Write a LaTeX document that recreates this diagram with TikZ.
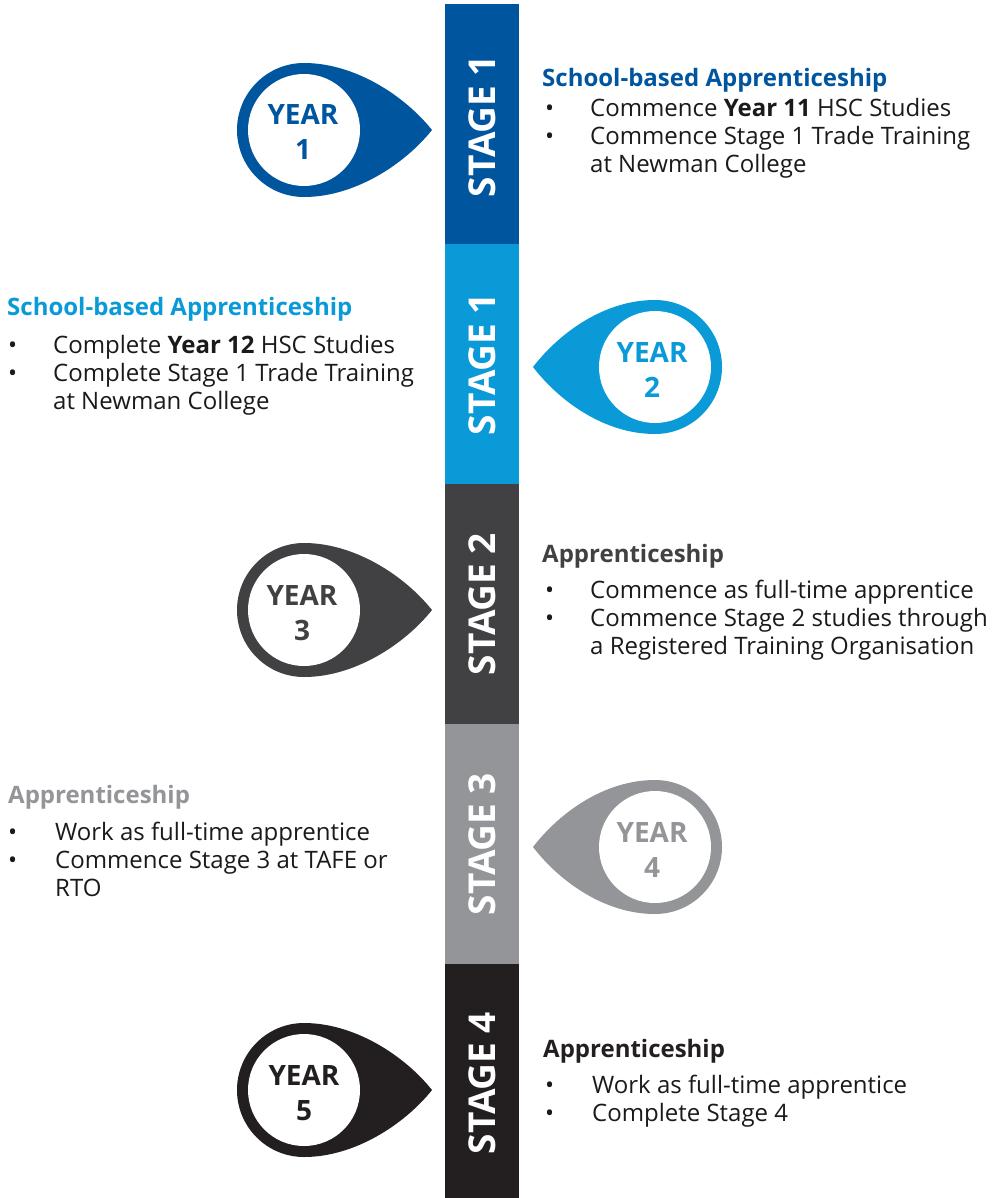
\documentclass[tikz,border=0pt]{standalone}
\usepackage{fontspec}
\setmainfont{Open Sans}
\definecolor{cA}{HTML}{00559F}
\definecolor{cB}{HTML}{0B9AD8}
\definecolor{cC}{HTML}{414042}
\definecolor{cD}{HTML}{939598}
\definecolor{cE}{HTML}{231F20}
\definecolor{ink}{HTML}{1A1A1A}
\newcommand\pinToRight[3]{%
  \fill[#3] (#1+128,#2) .. controls (#1+100,#2-35) and (#1+50,#2-67) .. (#1,#2-67)
    arc[start angle=270,end angle=90,radius=67]
    .. controls (#1+50,#2+67) and (#1+100,#2+35) .. (#1+128,#2) -- cycle;}
\newcommand\pinToLeft[3]{%
  \fill[#3] (#1-122,#2) .. controls (#1-95,#2-35) and (#1-50,#2-67) .. (#1,#2-67)
    arc[start angle=270,end angle=450,radius=67]
    .. controls (#1-50,#2+67) and (#1-95,#2+35) .. (#1-122,#2) -- cycle;}
\tikzset{
  ring/.style={circle,fill=white,minimum size=112,inner sep=0},
  yr/.style={anchor=base,inner sep=0,font=\bfseries\fontsize{28}{34}\selectfont},
  stg/.style={rotate=90,inner sep=0,text=white,font=\bfseries\fontsize{37}{40}\selectfont},
  head/.style={anchor=base west,inner sep=0,font=\bfseries\fontsize{24}{28}\selectfont},
  body/.style={anchor=base west,inner sep=0,text=ink,font=\fontsize{24}{28}\selectfont},
}
\begin{document}
\begin{tikzpicture}[x=1pt,y=-1pt]
\fill[white] (0,0) rectangle (1001,1198);
\useasboundingbox (0,0) rectangle (1001,1198);
% bar
\fill[cA] (445,4) rectangle (519,244);
\fill[cB] (445,244) rectangle (519,484);
\fill[cC] (445,484) rectangle (519,724);
\fill[cD] (445,724) rectangle (519,964);
\fill[cE] (445,964) rectangle (519,1198);
\node[stg] (s1) at (482,126) {STAGE 1};
\node[stg] (s2) at (482,364) {STAGE 1};
\node[stg] (s3) at (482,604) {STAGE 2};
\node[stg] (s4) at (482,844) {STAGE 3};
\node[stg] (s5) at (482,1083) {STAGE 4};
% pins
\pinToRight{304}{130}{cA}
\node[ring] (p1) at (304,130) {};
\node[yr,text=cA] (p1a) at (303,125) {YEAR};
\node[yr,text=cA] (p1b) at (303,160) {1};
\pinToLeft{655}{367}{cB}
\node[ring] (p2) at (655,367) {};
\node[yr,text=cB] (p2a) at (652,362) {YEAR};
\node[yr,text=cB] (p2b) at (652,397) {2};
\pinToRight{304}{610}{cC}
\node[ring] (p3) at (304,610) {};
\node[yr,text=cC] (p3a) at (302,605) {YEAR};
\node[yr,text=cC] (p3b) at (302,640) {3};
\pinToLeft{655}{847}{cD}
\node[ring] (p4) at (655,847) {};
\node[yr,text=cD] (p4a) at (652,842) {YEAR};
\node[yr,text=cD] (p4b) at (652,877) {4};
\pinToRight{304}{1090}{cE}
\node[ring] (p5) at (304,1090) {};
\node[yr,text=cE] (p5a) at (304,1085) {YEAR};
\node[yr,text=cE] (p5b) at (304,1120) {5};
% block 1
\node[head,text=cA] (h1) at (542,87) {School-based Apprenticeship};
\node[body] (b1a) at (545,117) {•};
\node[body] (t1a) at (590,117) {Commence \textbf{Year 11} HSC Studies};
\node[body] (b1b) at (545,145) {•};
\node[body] (t1b) at (590,145) {Commence Stage 1 Trade Training};
\node[body] (t1c) at (590,173) {at Newman College};
% block 2
\node[head,text=cB] (h2) at (7,315) {School-based Apprenticeship};
\node[body] (b2a) at (8,353) {•};
\node[body] (t2a) at (53,353) {Complete \textbf{Year 12} HSC Studies};
\node[body] (b2b) at (8,381) {•};
\node[body] (t2b) at (53,381) {Complete Stage 1 Trade Training};
\node[body] (t2c) at (53,409) {at Newman College};
% block 3
\node[head,text=cC] (h3) at (542,562) {Apprenticeship};
\node[body] (b3a) at (545,598) {•};
\node[body] (t3a) at (590,598) {Commence as full-time apprentice};
\node[body] (b3b) at (545,626) {•};
\node[body] (t3b) at (590,626) {Commence Stage 2 studies through};
\node[body] (t3c) at (590,654) {a Registered Training Organisation};
% block 4
\node[head,text=cD] (h4) at (8,803) {Apprenticeship};
\node[body] (b4a) at (8,840) {•};
\node[body] (t4a) at (55,840) {Work as full-time apprentice};
\node[body] (b4b) at (8,868) {•};
\node[body] (t4b) at (55,868) {Commence Stage 3 at TAFE or};
\node[body] (t4c) at (55,896) {RTO};
% block 5
\node[head,text=cE] (h5) at (543,1057) {Apprenticeship};
\node[body] (b5a) at (545,1093) {•};
\node[body] (t5a) at (592,1093) {Work as full-time apprentice};
\node[body] (b5b) at (545,1121) {•};
\node[body] (t5b) at (592,1121) {Complete Stage 4};
\end{tikzpicture}
\end{document}
